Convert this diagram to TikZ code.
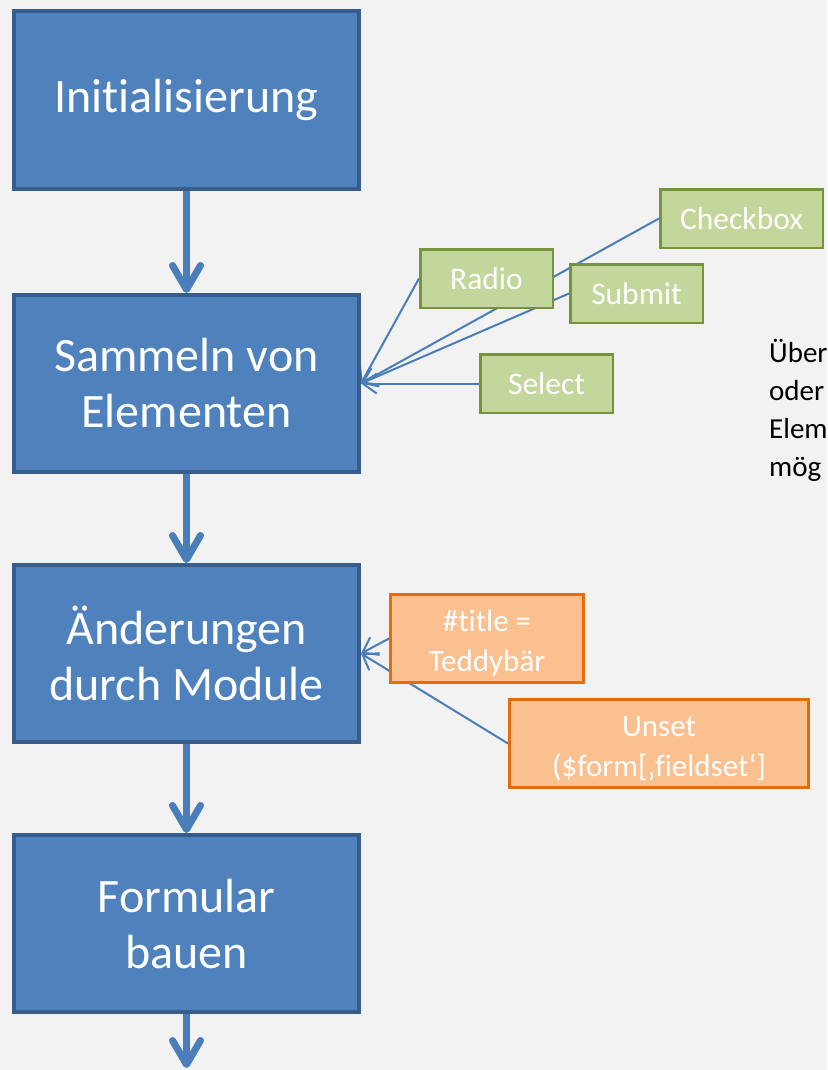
\documentclass[tikz,border=0pt]{standalone}
\usepackage{fontspec}
\setmainfont{Carlito}[Ligatures=NoCommon]
\usetikzlibrary{arrows.meta}

\definecolor{pagegray}{HTML}{F2F2F2}
\definecolor{stagefill}{HTML}{4F81BD}
\definecolor{stageline}{HTML}{385D8A}
\definecolor{flowblue}{HTML}{4A7EBB}
\definecolor{elemfill}{HTML}{C3D69B}
\definecolor{elemline}{HTML}{77933C}
\definecolor{changefill}{HTML}{FAC090}
\definecolor{changeline}{HTML}{E46C0A}

\pgfdeclarelayer{paper}
\pgfdeclarelayer{wires}
\pgfsetlayers{paper,wires,main}

\begin{document}
\begin{tikzpicture}[x=1pt,y=-1pt]
  \tikzstyle{stage}=[draw=stageline, fill=stagefill, line width=4pt, minimum width=345pt, minimum height=177pt, inner sep=0pt, text=white, align=center, font=\fontsize{48}{56}\selectfont]
  \tikzstyle{elem}=[draw=elemline, fill=elemfill, line width=2.5pt, minimum width=132.5pt, minimum height=58.5pt, inner sep=0pt, text=white, font=\fontsize{31.5}{38}\selectfont]
  \tikzstyle{change}=[draw=changeline, fill=changefill, line width=3pt, minimum height=88pt, inner sep=0pt, text=white, align=center, font=\fontsize{31}{40}\selectfont]
  \tikzstyle{flow}=[draw=flowblue, line width=7pt, -{Straight Barb[length=24pt,width=28pt,round]}]
  \tikzstyle{feed}=[draw=flowblue, line width=2pt, -{Straight Barb[length=14pt,width=20pt]}]
  \useasboundingbox (0,0) rectangle (827,1070);
  \begin{pgfonlayer}{paper}
    \fill[pagegray] (0,0) rectangle (827,1070);
  \end{pgfonlayer}

  % main flow
  \node[stage] (init) at (186.5,100) {Initialisierung};
  \node[stage] (collect) at (186.5,383.5) {Sammeln von\\Elementen};
  \node[stage] (modules) at (186.5,653.5) {Änderungen\\durch Module};
  \node[stage] (build) at (186.5,923.5) {Formular\\bauen};
  \coordinate (out) at (186.5,1068);

  \draw[flow] (init.south) -- (collect.north);
  \draw[flow] (collect.south) -- (modules.north);
  \draw[flow] (modules.south) -- (build.north);
  \draw[flow] (build.south) -- (out);

  % elements
  \node[elem] (radio) at (486.5,278.5) {Radio};
  \node[elem] (submit) at (636.5,293.5) {Submit};
  \node[elem, minimum width=162.5pt] (checkbox) at (741.5,218.5) {Checkbox};
  \node[elem] (select) at (546.5,383.5) {Select};

  % changes
  \node[change, minimum width=193pt] (title) at (487,638.5) {\rule{0pt}{31pt}\#title =\\Teddybär};
  \node[change, minimum width=299pt] (unset) at (659,743.5) {\rule{0pt}{31pt}Unset\\(\$form[‚fieldset‘]};

  \node[anchor=north west, inner sep=0pt, align=left, font=\fontsize{29}{38}\selectfont] (note) at (769,339) {Über\\oder\\Elem\\mög};

  \begin{pgfonlayer}{wires}
    \draw[feed] (checkbox.west) -- (collect.east);
    \draw[feed] (submit.west) -- (collect.east);
    \draw[feed] (radio.west) -- (collect.east);
    \draw[feed] (select.west) -- (collect.east);
    \draw[feed] (title.west) -- (modules.east);
    \draw[feed] (unset.west) -- (modules.east);
  \end{pgfonlayer}
\end{tikzpicture}
\end{document}
